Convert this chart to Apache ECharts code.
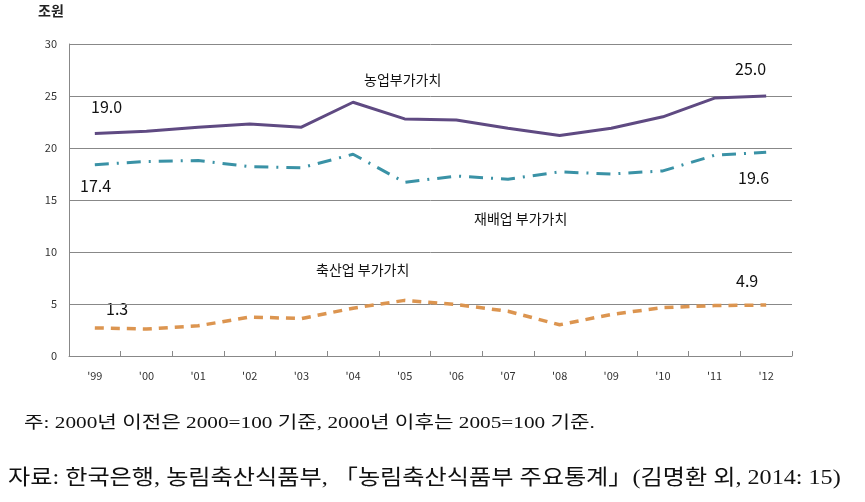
<!DOCTYPE html>
<html><head><meta charset="utf-8">
<script src="https://cdn.jsdelivr.net/npm/echarts@6/dist/echarts.min.js"></script>
<style>html,body{margin:0;padding:0;background:#fff}#c{width:865px;height:502px}</style>
</head><body><div id="c"></div>
<script>
const categories = ["'99","'00","'01","'02","'03","'04","'05","'06","'07","'08","'09","'10","'11","'12"];
const agriValue = [21.4,21.6,22.0,22.3,22.0,24.4,22.8,22.7,21.9,21.2,21.9,23.0,24.8,25.0];
const cropValue = [18.4,18.7,18.8,18.2,18.1,19.4,16.7,17.3,17.0,17.7,17.5,17.8,19.3,19.6];
const livestockValue = [2.7,2.6,2.9,3.75,3.6,4.6,5.35,4.95,4.3,3.0,4.0,4.65,4.85,4.9];

const chart = echarts.init(document.getElementById('c'));
const kfont = "'Noto Sans CJK KR','Noto Sans',sans-serif";
const serif = "'Liberation Serif','DejaVu Serif','Noto Sans CJK KR',serif";
function txt(x,y,t,size){return {type:'text',x:x,y:y,style:{text:t,fontSize:size,fontFamily:kfont,fill:'#111'}};}
chart.setOption({
  animation:false,
  grid:{left:69,right:73,top:44,bottom:146},
  xAxis:{type:'category',data:categories,boundaryGap:true,
    axisLine:{lineStyle:{color:'#888',width:1}},
    axisTick:{show:true,inside:true,length:5,lineStyle:{color:'#888'}},
    axisLabel:{fontSize:11,color:'#333',margin:14,fontFamily:kfont}},
  yAxis:{type:'value',min:0,max:30,interval:5,
    axisLine:{show:true,lineStyle:{color:'#888',width:1}},
    axisTick:{show:false},
    splitLine:{lineStyle:{color:'#888',width:1}},
    axisLabel:{fontSize:11,color:'#333',margin:12,fontFamily:kfont}},
  series:[
    {type:'line',data:agriValue,symbol:'none',lineStyle:{color:'#5f4a82',width:3}},
    {type:'line',data:cropValue,symbol:'none',lineStyle:{color:'#3a92a6',width:3,type:[14,8,2,8]}},
    {type:'line',data:livestockValue,symbol:'none',lineStyle:{color:'#dc9550',width:3.5,type:[9,7]}}
  ],
  graphic:[
    {type:'text',x:38,y:4,style:{text:'조원',fontSize:14,fontFamily:kfont,fill:'#222',fontWeight:'bold'}},
    txt(91,99,'19.0',16),
    txt(80,178,'17.4',16),
    txt(735,61,'25.0',16),
    txt(738,170,'19.6',16),
    txt(106,301,'1.3',16),
    txt(736,273,'4.9',16),
    txt(364,73,'농업부가가치',14),
    txt(474,212,'재배업 부가가치',14),
    txt(316,263,'축산업 부가가치',14),
    {type:'text',x:24,y:415,scaleX:1.25,style:{text:'주: 2000년 이전은 2000=100 기준, 2000년 이후는 2005=100 기준.',fontSize:17,fontFamily:serif,fill:'#111'}},
    {type:'text',x:8,y:468,scaleX:1.15,style:{text:'자료: 한국은행, 농림축산식품부, 「농림축산식품부 주요통계」(김명환 외, 2014: 15)',fontSize:21,fontFamily:serif,fill:'#111'}}
  ]
});
</script></body></html>
